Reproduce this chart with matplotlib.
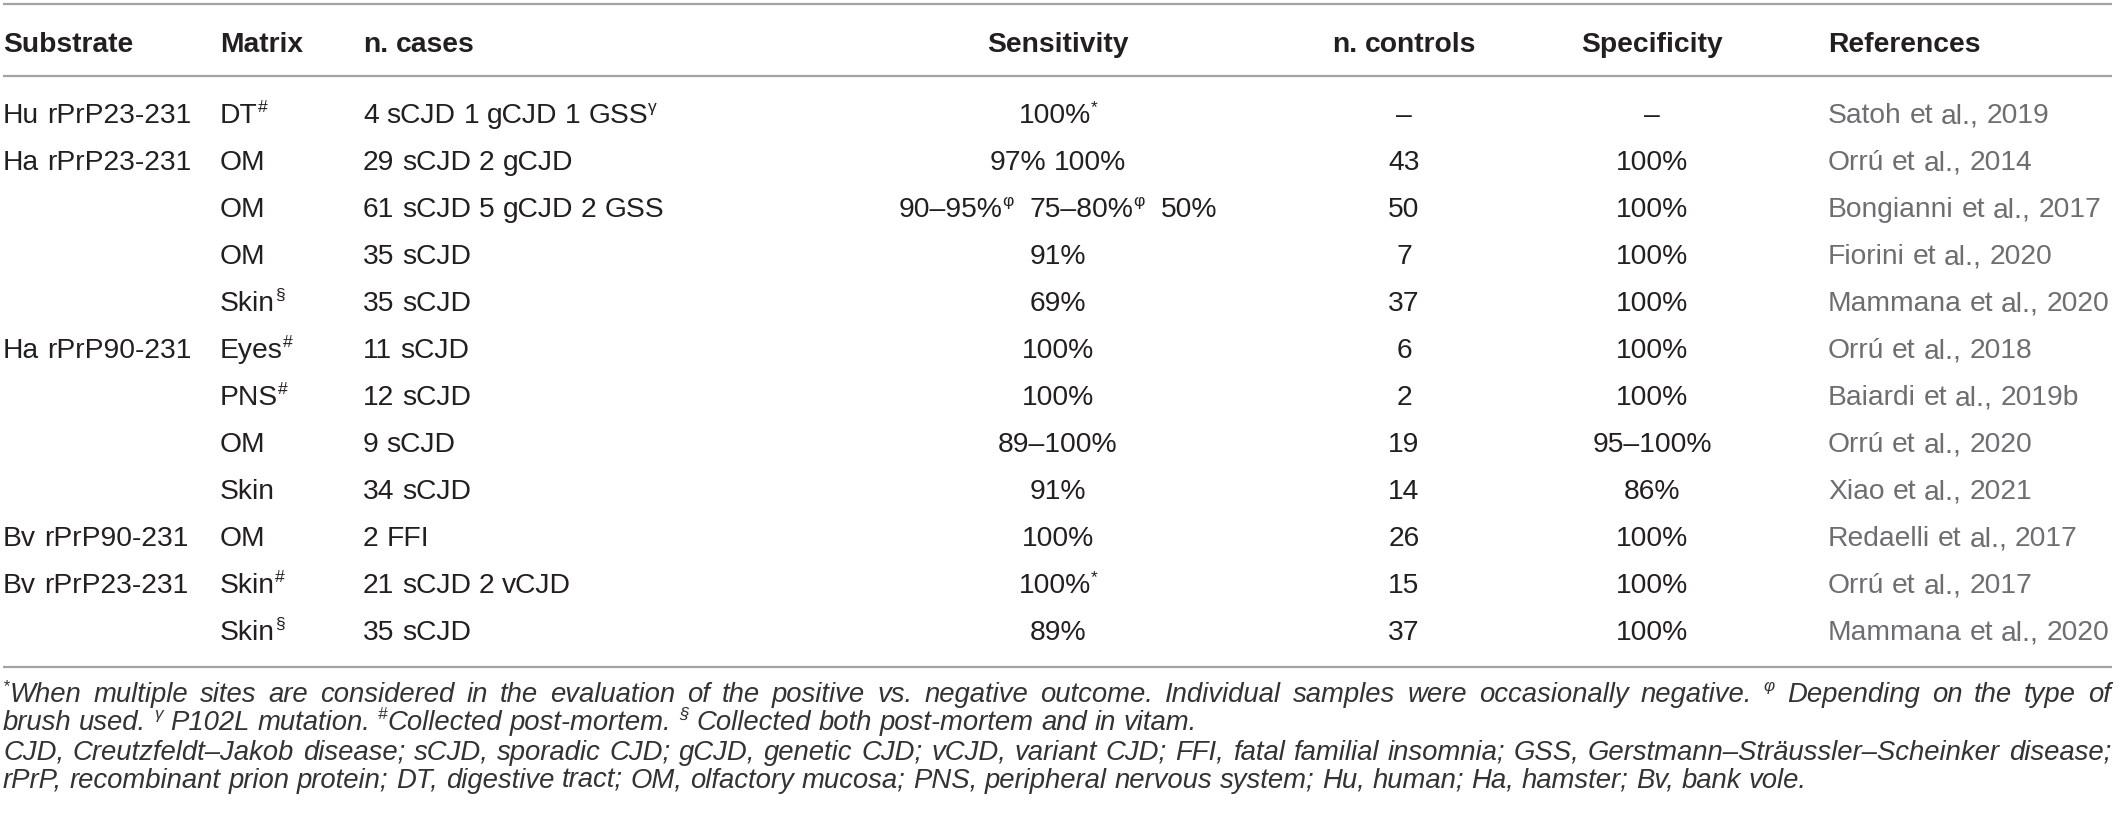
import matplotlib
matplotlib.use("Agg")
import matplotlib.pyplot as plt

plt.rcParams['font.family'] = ['Liberation Sans', 'DejaVu Sans']

# table content
headers = ['Substrate', 'Matrix', 'n. cases', 'Sensitivity', 'n. controls', 'Specificity', 'References']

substrate = ['Hu rPrP23-231', 'Ha rPrP23-231', '', '', '', 'Ha rPrP90-231', '', '', '',
             'Bv rPrP90-231', 'Bv rPrP23-231', '']
matrix = ['DT', 'OM', 'OM', 'OM', 'Skin', 'Eyes', 'PNS', 'OM', 'Skin', 'OM', 'Skin', 'Skin']
matrix_mark = ['#', '', '', '', '§', '#', '#', '', '', '', '#', '§']
cases = ['4 sCJD 1 gCJD 1 GSS', '29 sCJD 2 gCJD', '61 sCJD 5 gCJD 2 GSS', '35 sCJD', '35 sCJD',
         '11 sCJD', '12 sCJD', '9 sCJD', '34 sCJD', '2 FFI', '21 sCJD 2 vCJD', '35 sCJD']
cases_mark = ['γ', '', '', '', '', '', '', '', '', '', '', '']
sensitivity = [[('100%', '*')], [('97%', ''), ('100%', '')],
               [('90–95%', 'φ'), ('75–80%', 'φ'), ('50%', '')],
               [('91%', '')], [('69%', '')], [('100%', '')], [('100%', '')],
               [('89–100%', '')], [('91%', '')], [('100%', '')], [('100%', '*')], [('89%', '')]]
controls = ['–', '43', '50', '7', '37', '6', '2', '19', '14', '26', '15', '37']
specificity = ['–', '100%', '100%', '100%', '100%', '100%', '100%', '95–100%', '86%',
               '100%', '100%', '100%']
references = ['Satoh et al., 2019', 'Orrú et al., 2014', 'Bongianni et al., 2017',
              'Fiorini et al., 2020', 'Mammana et al., 2020', 'Orrú et al., 2018',
              'Baiardi et al., 2019b', 'Orrú et al., 2020', 'Xiao et al., 2021',
              'Redaelli et al., 2017', 'Orrú et al., 2017', 'Mammana et al., 2020']

footnotes = [
    [('*', True), ('When multiple sites are considered in the evaluation of the positive vs. '
                   'negative outcome. Individual samples were occasionally negative.', False),
     (' ', False), ('φ', True), (' ', False), ('Depending on the type of', False)],
    [('brush used.', False), (' ', False), ('γ', True), (' ', False), ('P102L mutation.', False),
     (' ', False), ('#', True), ('Collected post-mortem.', False), (' ', False), ('§', True),
     (' ', False), ('Collected both post-mortem and in vitam.', False)],
    [('CJD, Creutzfeldt–Jakob disease; sCJD, sporadic CJD; gCJD, genetic CJD; vCJD, variant CJD; '
      'FFI, fatal familial insomnia; GSS, Gerstmann–Sträussler–Scheinker disease;', False)],
    [('rPrP, recombinant prion protein; DT, digestive tract; OM, olfactory mucosa; PNS, peripheral '
      'nervous system; Hu, human; Ha, hamster; Bv, bank vole.', False)],
]
footnote_justified = [True, False, True, False]

W, H = 2121, 829
fig = plt.figure(figsize=(W / 100, H / 100), dpi=100)
ax = fig.add_axes([0, 0, 1, 1])
ax.set_xlim(0, W)
ax.set_ylim(H, 0)
ax.axis('off')
renderer = fig.canvas.get_renderer()

BODY = 20.3
TEXT = '#231f20'
REFC = '#6d6e71'


def rich(x, y, parts, ha='left', size=BODY, color=TEXT, style='normal', weight='normal',
         justify=None):
    """draw text pieces with superscripts, y is the baseline"""
    px = size * 100 / 72
    space = 0.278 * px
    # split into words so spaces can be stretched when justifying
    tokens = []
    for s, sup in parts:
        if s.strip() == '':
            tokens.append((None, len(s)))
            continue
        words = s.split(' ')
        for k, wd in enumerate(words):
            if k:
                tokens.append((None, 1))
            tokens.append((wd, sup))
    pieces = []
    for s, sup in tokens:
        if s is None:
            pieces.append(('gap', sup * space))
            continue
        fs = size * 0.62 if sup else size
        t = ax.text(0, y - (px * 0.40 if sup else 0), s, fontsize=fs, color=color,
                    fontstyle=style, fontweight=weight, va='baseline', ha='left')
        pieces.append((t, t.get_window_extent(renderer).width))
    total = sum(w for _, w in pieces)
    ngaps = sum(1 for t, _ in pieces if t == 'gap')
    extra = (justify - total) / ngaps if (justify and ngaps) else 0
    pos = x - total / 2 if ha == 'center' else x
    for t, w in pieces:
        if t == 'gap':
            pos += w + extra
        else:
            t.set_x(pos)
            pos += w


col_x = [3, 220, 363, 1058, 1404, 1652, 1828]
col_ha = ['left', 'left', 'left', 'center', 'center', 'center', 'left']

cap = BODY * 100 / 72 * 0.72
header_y = 42
row0, row_h = 113, 47

# rules
for y in [5, 77, 668]:
    ax.plot([3, 2112], [y, y], color='#a3a3a3', lw=1.6, solid_capstyle='butt')

for name, x, ha in zip(headers, col_x, col_ha):
    rich(x, header_y + cap / 2, [(name, False)], ha=ha, weight='bold')

for i in range(len(matrix)):
    yb = row0 + i * row_h + cap / 2
    if substrate[i]:
        rich(col_x[0], yb, [(substrate[i], False)])
    rich(col_x[1], yb, [(matrix[i], False), (matrix_mark[i], True)])
    rich(col_x[2], yb, [(cases[i], False), (cases_mark[i], True)])
    parts = []
    for k, (v, m) in enumerate(sensitivity[i]):
        if k:
            parts.append((' ' if not sensitivity[i][k - 1][1] else '  ', False))
        parts.append((v, False))
        if m:
            parts.append((m, True))
    rich(col_x[3], yb, parts, ha='center')
    rich(col_x[4], yb, [(controls[i], False)], ha='center')
    rich(col_x[5], yb, [(specificity[i], False)], ha='center')
    rich(col_x[6], yb, [(references[i], False)], color=REFC)

# footnote size fitted to the full text width
probe = ax.text(0, 0, footnotes[2][0][0], fontsize=16, fontstyle='italic')
fn_size = 16 * 2100 / probe.get_window_extent(renderer).width
probe.remove()
fn_cap = fn_size * 100 / 72 * 0.72
for j, line in enumerate(footnotes):
    yc = [692, 720, 750, 778][j]
    rich(3, yc + fn_cap / 2, line, size=fn_size, style='italic', color='#333333',
         justify=2108 if footnote_justified[j] else None)

fig.savefig('out.png', dpi=100)
